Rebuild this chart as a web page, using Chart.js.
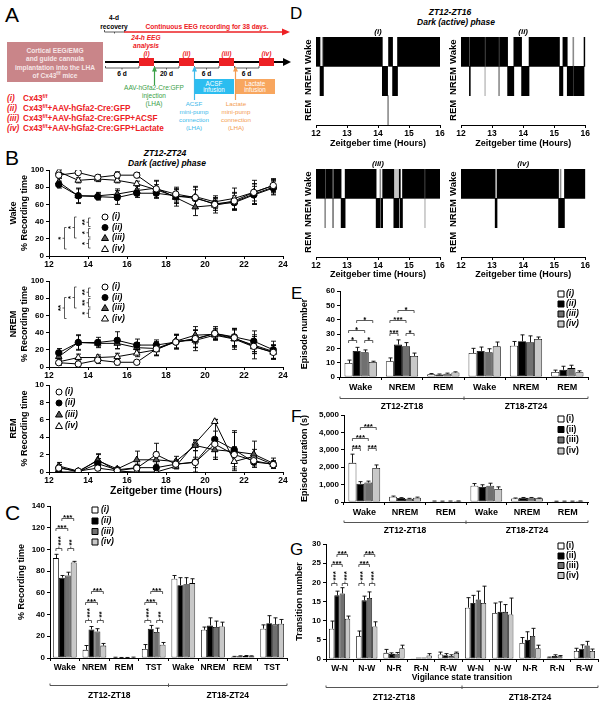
<!DOCTYPE html>
<html><head><meta charset="utf-8">
<script src="https://cdn.jsdelivr.net/npm/chart.js@4.4.1/dist/chart.umd.min.js"></script>
<style>
html,body{margin:0;padding:0;background:#fff}
body{width:604px;height:705px;position:relative;overflow:hidden;font-family:'Liberation Sans',Arial,sans-serif}
canvas{position:absolute}
.L{position:absolute;line-height:1;color:#000}
.T{position:absolute;font-weight:bold;font-style:italic;text-align:center;white-space:nowrap;line-height:1;color:#000}
</style></head><body>
<div class="L" style="left:5px;top:4px;font-size:21px">A</div>
<div class="L" style="left:5px;top:147px;font-size:21px">B</div>
<div class="L" style="left:5px;top:502px;font-size:21px">C</div>
<div class="L" style="left:290px;top:5px;font-size:17px">D</div>
<div class="L" style="left:291px;top:285px;font-size:17px">E</div>
<div class="L" style="left:291px;top:408px;font-size:17px">F</div>
<div class="L" style="left:290px;top:541px;font-size:17px">G</div>
<div class="T" style="left:105px;width:120px;top:148.5px;font-size:8.5px">ZT12-ZT24</div>
<div class="T" style="left:107px;width:120px;top:158.5px;font-size:8.5px">Dark (active) phase</div>
<div class="T" style="left:390px;width:120px;top:7.5px;font-size:8.5px">ZT12-ZT16</div>
<div class="T" style="left:396px;width:120px;top:17.5px;font-size:8.5px">Dark (active) phase</div>

<svg style="position:absolute;left:0;top:0" width="296" height="140" font-family="'Liberation Sans',Arial,sans-serif" font-weight="bold">
<g font-size="6.6" text-anchor="middle">
<text x="114" y="20">4-d</text>
<text x="114" y="28.5">recovery</text>
</g>
<path d="M104.5,30 v2 h20 v-2 M114.5,32 v1.5" stroke="#333" stroke-width="0.8" fill="none"/>
<line x1="124" y1="32" x2="283" y2="32" stroke="#ed2024" stroke-width="1.6"/>
<path d="M282,28.5 L290,32 L282,35.5 Z" fill="#ed2024"/>
<text x="207" y="28.5" font-size="6.6" fill="#ed2024" text-anchor="middle">Continuous EEG recording for 38 days.</text>
<g fill="#ed2024" font-style="italic" font-size="6.6" text-anchor="middle">
<text x="146" y="40">24-h EEG</text><text x="146" y="48">analysis</text>
<text x="146.5" y="56">(i)</text><text x="186.5" y="56">(ii)</text><text x="226.5" y="56">(iii)</text><text x="266.5" y="56">(iv)</text>
</g>
<rect x="7" y="42" width="96" height="40" fill="#c98589"/>
<g fill="#f6e6e7" font-size="6.6" text-anchor="middle">
<text x="55" y="53">Cortical EEG/EMG</text>
<text x="55" y="61">and guide cannula</text>
<text x="55" y="69.5">implantation into the LHA</text>
<text x="55" y="77.5">of Cx43<tspan font-size="4.5" dy="-2.5">f/f</tspan><tspan dy="2.5"> mice</tspan></text>
</g>
<line x1="105" y1="62" x2="284" y2="62" stroke="#000" stroke-width="2"/>
<path d="M283,58 L291,62 L283,66 Z" fill="#000"/>
<g fill="#ed2024"><rect x="139" y="58" width="15" height="8"/><rect x="179" y="58" width="15" height="8"/><rect x="219" y="58" width="15" height="8"/><rect x="259" y="58" width="15" height="8"/></g>
<path d="M105.5,66 v2 h33.5 v-2 M122,68 v1.5 M154.5,66 v2 h24.5 v-2 M166.5,68 v1.5 M194.5,66 v2 h24.5 v-2 M206.5,68 v1.5 M234.5,66 v2 h24.5 v-2 M246.5,68 v1.5" stroke="#333" stroke-width="0.8" fill="none"/>
<g font-size="6.6" text-anchor="middle"><text x="122" y="76">6 d</text><text x="166.5" y="76">20 d</text><text x="206.5" y="76">6 d</text><text x="246.5" y="76">6 d</text></g>
<rect x="194" y="79" width="40" height="15" fill="#2bbdf0"/>
<rect x="235" y="79" width="40" height="15" fill="#f8a65e"/>
<g fill="#ffffff" font-size="6.3" font-weight="normal" text-anchor="middle">
<text x="214" y="85.5">ACSF</text><text x="214" y="92.3">infusion</text>
<text x="255" y="85.5">Lactate</text><text x="255" y="92.3">infusion</text>
</g>
<path d="M154.5,85 V71" stroke="#3aa047" stroke-width="1.2"/><path d="M152,71.5 L154.5,66 L157,71.5 Z" fill="#3aa047"/>
<path d="M194.5,100 V71" stroke="#3cb9ea" stroke-width="1.2"/><path d="M192,71.5 L194.5,66 L197,71.5 Z" fill="#3cb9ea"/>
<path d="M235.5,100 V71" stroke="#f39c50" stroke-width="1.2"/><path d="M233,71.5 L235.5,66 L238,71.5 Z" fill="#f39c50"/>
<g fill="#3aa047" font-size="6.5" font-weight="normal" text-anchor="middle">
<text x="154" y="90">AAV-hGfa2-Cre:GFP</text><text x="154" y="98">injection</text><text x="154" y="106">(LHA)</text>
</g>
<g fill="#3cb9ea" font-size="6.2" font-weight="normal" text-anchor="middle">
<text x="194" y="106">ACSF</text><text x="194" y="114">mini-pump</text><text x="194" y="122">connection</text><text x="194" y="130">(LHA)</text>
</g>
<g fill="#f39c50" font-size="6.2" font-weight="normal" text-anchor="middle">
<text x="236" y="106">Lactate</text><text x="236" y="114">mini-pump</text><text x="236" y="122">connection</text><text x="236" y="130">(LHA)</text>
</g>
<g fill="#ed2024" font-size="8.2">
<text x="7" y="100.5"><tspan font-style="italic">(i)</tspan></text><text x="23" y="100.5">Cx43<tspan font-size="5.2" dy="-3">f/f</tspan></text>
<text x="7" y="110.5"><tspan font-style="italic">(ii)</tspan></text><text x="23" y="110.5">Cx43<tspan font-size="5.2" dy="-3">f/f</tspan><tspan dy="3">+AAV-hGfa2-Cre:GFP</tspan></text>
<text x="7" y="120.5"><tspan font-style="italic">(iii)</tspan></text><text x="23" y="120.5">Cx43<tspan font-size="5.2" dy="-3">f/f</tspan><tspan dy="3">+AAV-hGfa2-Cre:GFP+ACSF</tspan></text>
<text x="7" y="131"><tspan font-style="italic">(iv)</tspan></text><text x="23" y="131">Cx43<tspan font-size="5.2" dy="-3">f/f</tspan><tspan dy="3">+AAV-hGfa2-Cre:GFP+Lactate</tspan></text>
</g>
</svg>

<script>
// ---------------- DATA ----------------
const ZT = [12.5,13.5,14.5,15.5,16.5,17.5,18.5,19.5,20.5,21.5,22.5,23.5];
const GROUP_LABELS = ['(i)','(ii)','(iii)','(iv)'];
const GROUP_LABELS_PLAIN = ['(i)','(ii)','(iii)','(iv)'];

const WAKE_I   = [94,97,91.5,94,94,78,72,68,60,64,74,82];
const WAKE_II  = [83,70,69,68,73,73,70,67,61,62,71,79];
const WAKE_III = [86,70,70,72,76,79,68,57,59,63,72,80];
const WAKE_IV  = [98,88,89.5,88,84,77,69,69,63,67,74,82];
const WAKE_I_E   = [3,2,3,4,3,10,8,12,10,10,10,8];
const WAKE_II_E  = [4,9,4,8,5,6,8,10,6,8,10,8];
const WAKE_III_E = [4,8,4,6,6,8,10,10,6,10,12,8];
const WAKE_IV_E  = [2,3,3,3,3,6,8,12,5,12,14,7];

const NREM_I   = [5,3.5,8,5.5,5.5,21,29,33,39,34,24,17];
const NREM_II  = [16.5,28.5,28.5,31,25.5,25.5,29,32.5,39,35,30,20];
const NREM_III = [12,28.5,27.5,27.5,22.5,21.5,30,37,38,33,25.5,18];
const NREM_IV  = [6,11,11,12,16,20,30,31,37,32.5,23.5,17];
const NREM_I_E   = [3,2,4,3,2,8,8,10,8,10,8,8];
const NREM_II_E  = [5,9,6,10,7,6,8,10,6,10,12,10];
const NREM_III_E = [4,8,4,6,6,8,8,10,6,10,10,8];
const NREM_IV_E  = [2,4,3,4,4,6,8,12,5,12,14,8];

const REM_I   = [0.45,0.1,0.45,0.15,0.45,2.0,0.9,1.1,3.2,2.0,1.3,0.85];
const REM_II  = [0,0,0.95,0.25,0.5,0.5,0.9,1.15,3.75,2.55,1.15,0.9];
const REM_III = [0.7,0.1,1.3,0.35,1.4,1.4,1.2,3.05,2.55,2.35,2.05,1.0];
const REM_IV  = [0.55,0,1.4,0.1,0,0,0.65,3.3,5.8,1.2,1.8,0.85];
const REM_I_E   = [0.2,0.1,0.3,0.1,0.3,1.3,0.4,0.6,1.5,0.9,0.5,0.3];
const REM_II_E  = [0,0,0.6,0.2,0.4,0.4,0.5,1.3,2.3,2.2,0.6,0.4];
const REM_III_E = [0.4,0.1,0.7,0.2,1.0,0.9,0.6,0.6,1.1,2.2,1.5,0.6];
const REM_IV_E  = [0.3,0,0.7,0.1,0,0,0.3,0.4,0.2,0.6,0.8,0.4];

const C_CATS = ['Wake','NREM','REM','TST','Wake','NREM','REM','TST'];
const C_I   = [92,7.5,0.5,8.4,73,26,1.2,27];
const C_II  = [74,26.3,0.3,27,67,30,1.7,32];
const C_III = [76,24.5,0.3,24,68,28.5,1.9,31];
const C_IV  = [88,11.4,0.5,12.3,69,29,1.7,31.5];
const C_I_E   = [3.5,4,0.2,4,3,2.5,0.3,3.5];
const C_II_E  = [2,2.7,0.2,3,7,7,0.3,7];
const C_III_E = [3,2.5,0.2,3.5,6,5.5,0.4,6];
const C_IV_E  = [1,2,0.3,2,4,4,0.3,4];

const E_CATS = ['Wake','NREM','REM','Wake','NREM','REM'];
const E_I   = [9.8,11,2,16.7,21.8,3.5];
const E_II  = [18.2,22.6,1.8,18.2,24.9,5];
const E_III = [17.3,21.5,2.3,17.3,24.2,6.2];
const E_IV  = [10.5,14.7,3.2,21.4,26.5,3.3];
const E_I_E   = [2,2.3,0.4,3.3,3,1.3];
const E_II_E  = [2.5,3.3,0.3,2.7,4.5,2.5];
const E_III_E = [1.6,2.5,0.4,2.4,4.5,2];
const E_IV_E  = [0.5,2,0.4,3,1.4,1];

const F_CATS = ['Wake','NREM','REM','Wake','NREM','REM'];
const F_I   = [2250,300,50,930,200,40];
const F_II  = [1050,230,45,870,240,45];
const F_III = [1120,190,50,930,240,45];
const F_IV  = [1950,250,55,750,210,55];
const F_I_E   = [500,40,5,130,30,5];
const F_II_E  = [120,20,5,120,20,5];
const F_III_E = [80,20,5,150,20,5];
const F_IV_E  = [180,30,5,120,20,5];

const G_CATS = ['W-N','N-W','N-R','R-N','R-W','W-N','N-W','N-R','R-N','R-W'];
const G_I   = [7.9,6.0,1.6,0.2,1.2,13.4,12.0,4.2,0.4,2.1];
const G_II  = [16.6,15.3,1.3,0.4,1.0,14.6,12.3,5.0,0.8,2.7];
const G_III = [17.1,15.9,1.4,0.4,0.8,15.5,12.3,6.0,0.7,3.5];
const G_IV  = [10.5,8.5,2.8,0.9,1.6,14.6,11.6,2.8,0,2.1];
const G_I_E   = [2,1.3,0.9,0,0.6,2.6,2.6,1.4,0.1,0.7];
const G_II_E  = [1.1,1.1,0.3,0,0.4,2,2.6,2.1,0.3,1.0];
const G_III_E = [1.5,1.6,0.3,0,0.3,2.2,1.9,2.0,0.2,1.1];
const G_IV_E  = [0.7,1.2,0.8,0.5,0.2,4.4,4.3,0.8,0,0.5];

const PERIODS = ['ZT12-ZT18','ZT18-ZT24'];
const STATES = ['Wake','NREM','REM'];
// hypnogram episodes: [start, end, shade] shade 0 black, 1 gray, 2 light gray
const HYP_I_WAKE = [[12,12.13,0],[12.24,14.14,0],[14.34,14.47,0],[14.63,16,0],[12.2,12.23,1]];
const HYP_I_NREM = [[12.13,12.24,0],[14.14,14.31,0],[14.47,14.63,0]];
const HYP_I_REM  = [[14.31,14.34,1]];
const HYP_II_WAKE = [[12,12.27,0],[12.3,12.76,0],[12.79,13.21,0],[13.24,13.5,0],[13.7,13.95,0],[14.19,15.17,0],[15.28,15.42,0],[15.96,16,0],[15.6,15.63,1]];
const HYP_II_NREM = [[12.27,12.3,0],[13.5,13.7,0],[13.95,14.19,0],[15.17,15.28,0],[15.42,15.6,0],[15.63,15.96,0],[12.76,12.79,2],[13.21,13.24,1],[15.6,15.63,1]];
const HYP_II_REM  = [];
const HYP_III_WAKE = [[12,12.28,0],[12.31,12.53,0],[12.57,12.81,0],[12.94,13.94,0],[14.15,14.51,0],[14.68,14.72,0],[14.79,15.5,0],[15.53,16,0],[14.06,14.09,1],[14.53,14.64,2]];
const HYP_III_NREM = [[12.81,12.94,0],[13.94,14.06,0],[14.09,14.15,0],[14.51,14.68,0],[14.72,14.79,0],[12.28,12.31,1],[12.53,12.57,1],[15.5,15.53,2]];
const HYP_III_REM  = [];
const HYP_IV_WAKE = [[12,13.1,0],[13.16,15.14,0],[15.33,16,0],[15.19,15.22,1]];
const HYP_IV_NREM = [[13.1,13.16,0],[15.14,15.33,0]];
const HYP_IV_REM  = [];

// ---------------- SETUP ----------------
const FF = "'Liberation Sans', Arial, Helvetica, sans-serif";
const fnt = (s, st) => (st || 'bold') + ' ' + s + 'px ' + FF;
Chart.defaults.font.family = FF;
Chart.defaults.color = '#000';
Chart.defaults.animation = false;
Chart.defaults.events = [];
Chart.defaults.plugins.legend.display = false;
Chart.defaults.plugins.tooltip.enabled = false;
const FILL = ['#ffffff','#000000','#707070','#c8c8c8'];
const SHADE = ['#000000','#8a8a8a','#c4c4c4'];
const EXTRA = {};

function sym(ctx, s, x, y, fill) {
  ctx.save(); ctx.fillStyle = fill; ctx.strokeStyle = '#000'; ctx.lineWidth = 1;
  ctx.beginPath();
  if (s === 'sq') ctx.rect(x - 3, y - 3, 6, 6);
  else if (s === 'ci') ctx.arc(x, y, 3, 0, Math.PI * 2);
  else { ctx.moveTo(x, y - 3.5); ctx.lineTo(x + 3.5, y + 2.5); ctx.lineTo(x - 3.5, y + 2.5); ctx.closePath(); }
  ctx.fill(); ctx.stroke(); ctx.restore();
}

const deco = {
  id: 'deco',
  beforeDatasetsDraw(chart) {
    const o = EXTRA[chart.canvas.id]; if (!o || !o.err) return;
    const ctx = chart.ctx, ys = chart.scales.y;
    ctx.save(); ctx.strokeStyle = '#000'; ctx.lineWidth = 0.9;
    o.err.forEach((errs, di) => {
      const meta = chart.getDatasetMeta(di); const ds = chart.data.datasets[di].data;
      meta.data.forEach((el, j) => {
        const e = errs[j]; if (!e) return;
        const d = ds[j]; const v = (typeof d === 'object') ? d.y : d;
        const x = Math.round(el.x) + 0.5;
        const yt = ys.getPixelForValue(v + e);
        const yb = ys.getPixelForValue(o.both ? Math.max(v - e, ys.min) : v);
        ctx.beginPath(); ctx.moveTo(x, yb); ctx.lineTo(x, yt);
        ctx.moveTo(x - o.cap, yt); ctx.lineTo(x + o.cap, yt);
        if (o.both) { ctx.moveTo(x - o.cap, yb); ctx.lineTo(x + o.cap, yb); }
        ctx.stroke();
      });
    });
    ctx.restore();
  },
  afterDatasetsDraw(chart) {
    const o = EXTRA[chart.canvas.id]; if (!o) return;
    const ctx = chart.ctx, ca = chart.chartArea, xs = chart.scales.x, ys = chart.scales.y;
    ctx.save();
    ctx.fillStyle = '#000';
    (o.br || []).forEach(b => {
      const xa = chart.getDatasetMeta(b[1]).data[b[0]].x, xb = chart.getDatasetMeta(b[2]).data[b[0]].x;
      const y = Math.round(ys.getPixelForValue(b[3])) + 0.5;
      ctx.lineWidth = 0.8; ctx.strokeStyle = '#333';
      ctx.beginPath(); ctx.moveTo(xa, y + 2.5); ctx.lineTo(xa, y); ctx.lineTo(xb, y); ctx.lineTo(xb, y + 2.5);
      const xm = (xa + xb) / 2; ctx.moveTo(xm, y); ctx.lineTo(xm, y - 2); ctx.stroke();
      ctx.font = fnt(8);
      if (b[5]) {
        ctx.save(); ctx.translate(xm + 1.5, y - 3); ctx.rotate(-Math.PI / 2);
        ctx.textAlign = 'left'; ctx.textBaseline = 'middle'; ctx.fillText(b[4], 0, 0); ctx.restore();
      } else {
        ctx.textAlign = 'center'; ctx.textBaseline = 'alphabetic'; ctx.fillText(b[4], xm, y + 1);
      }
    });
    (o.vbr || []).forEach(v => {
      const x = v.x + 0.5; ctx.lineWidth = 0.8; ctx.strokeStyle = '#333';
      ctx.beginPath(); ctx.moveTo(x + 2, v.y1); ctx.lineTo(x, v.y1); ctx.lineTo(x, v.y2); ctx.lineTo(x + 2, v.y2);
      const ym = (v.y1 + v.y2) / 2; ctx.moveTo(x, ym); ctx.lineTo(x - 2, ym); ctx.stroke();
      ctx.save(); ctx.translate(x - 4, ym); ctx.rotate(-Math.PI / 2);
      ctx.font = fnt(8); ctx.textAlign = 'center'; ctx.textBaseline = 'middle'; ctx.fillText(v.t, 0, 0); ctx.restore();
    });
    if (o.grp) {
      const g = o.grp; const y = Math.round(ca.bottom + g.dy) + 0.5;
      ctx.strokeStyle = '#555'; ctx.lineWidth = 1;
      ctx.beginPath(); ctx.moveTo(ca.left, y - 2); ctx.lineTo(ca.left, y); ctx.lineTo(ca.right, y); ctx.lineTo(ca.right, y - 2);
      const xd = xs.getPixelForValue(g.split - 0.5); ctx.moveTo(xd, y - 2); ctx.lineTo(xd, y + 1.5); ctx.stroke();
      ctx.font = fnt(g.size || 8.5); ctx.textAlign = 'center'; ctx.textBaseline = 'middle'; ctx.fillStyle = '#000';
      const c0 = (g.split - 1) / 2, c1 = (g.split + g.n - 1) / 2;
      ctx.fillText(PERIODS[0], xs.getPixelForValue(c0), ca.bottom + g.dl);
      ctx.fillText(PERIODS[1], xs.getPixelForValue(c1), ca.bottom + g.dl);
    }
    (o.txt || []).forEach(t => {
      ctx.font = t.f; ctx.textAlign = 'center'; ctx.textBaseline = 'middle'; ctx.fillStyle = '#000';
      const x = (t.x === undefined) ? (ca.left + ca.right) / 2 : t.x;
      const y = (t.dy !== undefined) ? ca.bottom + t.dy : ca.top + t.dt;
      ctx.fillText(t.t, x, y);
    });
    if (o.leg) {
      const L = o.leg;
      L.items.forEach((it, k) => {
        const y = L.ys[k];
        sym(ctx, it[0], L.x, y, it[1]);
        ctx.font = L.f; ctx.textAlign = 'left'; ctx.textBaseline = 'middle'; ctx.fillStyle = '#000';
        ctx.fillText(it[2], L.tx, y);
      });
    }
    if (o.rows) {
      ctx.font = fnt(9.5); ctx.textAlign = 'center'; ctx.textBaseline = 'middle';
      ys.getLabels().forEach((lab, i) => {
        ctx.save(); ctx.translate(ca.left - 8, ys.getPixelForValue(i)); ctx.rotate(-Math.PI / 2);
        ctx.fillText(lab, 0, 0); ctx.restore();
      });
    }
    ctx.restore();
  }
};
Chart.register(deco);

function mk(id, left, top, w, h, cfg, extra) {
  const c = document.createElement('canvas');
  c.id = id; c.width = w; c.height = h;
  c.style.left = left + 'px'; c.style.top = top + 'px'; c.style.width = w + 'px'; c.style.height = h + 'px';
  document.body.appendChild(c);
  EXTRA[id] = extra || {};
  cfg.options = Object.assign({ responsive: false, maintainAspectRatio: false, devicePixelRatio: 1, animation: false }, cfg.options);
  return new Chart(c, cfg);
}
function yLin(min, max, step, title, w, tpad, tsize) {
  return {
    type: 'linear', min, max,
    ticks: { stepSize: step, font: { size: 8, weight: 'bold' }, color: '#000', padding: 2 },
    grid: { drawOnChartArea: false, drawTicks: true, tickLength: 3, color: '#000', lineWidth: 1 },
    border: { color: '#000', width: 1 },
    title: { display: !!title, text: title, color: '#000', font: { size: tsize || 9, weight: 'bold' }, padding: { top: tpad, bottom: 0 } },
    afterFit(s) { s.width = w; }
  };
}
function xCat(h, size) {
  return {
    type: 'category',
    ticks: { font: { size: size, weight: 'bold' }, color: '#000', padding: 2, autoSkip: false, maxRotation: 0, minRotation: 0 },
    grid: { drawOnChartArea: false, tickLength: 3, color: '#000', offset: true },
    border: { color: '#000', width: 1 },
    afterFit(s) { s.height = h; }
  };
}
function barChart(id, left, top, w, h, labels, series, errs, y, g, extra) {
  return mk(id, left, top, w, h, {
    type: 'bar',
    data: { labels, datasets: series.map((d, i) => ({ label: GROUP_LABELS[i], data: d, backgroundColor: FILL[i], borderColor: '#000', borderWidth: 0.8, borderSkipped: false, barPercentage: 1, categoryPercentage: g.cat })) },
    options: {
      layout: { padding: { top: g.pt, right: g.pr, left: 0, bottom: 0 } },
      scales: { x: xCat(g.xh, g.xf), y: yLin(y[0], y[1], y[2], y[3], g.yw, y[4]) }
    }
  }, Object.assign({ err: errs, cap: 2 }, extra));
}
const PS = ['circle','circle','triangle','triangle'];
const PF = ['#ffffff','#000000','#555555','#ffffff'];
const PR = [3.2,3.2,3.8,3.8];
function lineChart(id, top, h, sets, errs, ymax, ystep, title, xh, extra, xtitle) {
  return mk(id, 0, top, 292, h, {
    type: 'line',
    data: { datasets: sets.map((arr, i) => ({ label: GROUP_LABELS[i], data: ZT.map((x, k) => ({ x, y: arr[k] })), borderColor: '#000', borderWidth: 1, pointStyle: PS[i], pointRadius: PR[i], pointBackgroundColor: PF[i], pointBorderColor: '#000', pointBorderWidth: 1, fill: false, tension: 0 })) },
    options: {
      layout: { padding: { top: 10, right: 9, left: 0, bottom: 0 } },
      scales: {
        x: { type: 'linear', min: 12, max: 24,
          ticks: { stepSize: 2, font: { size: 8.5, weight: 'bold' }, color: '#000', padding: 1 },
          grid: { drawOnChartArea: false, tickLength: 3, color: '#000' }, border: { color: '#000' },
          title: xtitle ? { display: true, text: xtitle, font: { size: 10.5, weight: 'bold' }, color: '#000', padding: { top: 0, bottom: 8 } } : { display: false },
          afterFit(s) { s.height = xh; } },
        y: yLin(0, ymax, ystep, title, 49, 8)
      }
    }
  }, Object.assign({ err: errs, both: true, cap: 2.5 }, extra));
}
function hyp(id, left, top, w, h, pt, pr, lab, wake, nrem, rem, tpadB) {
  const ds = [0, 1, 2].map(sh => {
    const pick = (arr, row) => arr.filter(r => r[2] === sh).map(r => ({ x: [r[0], r[1]], y: row }));
    return { data: pick(wake, 'Wake').concat(pick(nrem, 'NREM')).concat(pick(rem, 'REM')), backgroundColor: SHADE[sh], barPercentage: 1, categoryPercentage: 1, grouped: false, borderWidth: 0 };
  });
  return mk(id, left, top, w, h, {
    type: 'bar',
    data: { labels: STATES, datasets: ds },
    options: {
      indexAxis: 'y',
      layout: { padding: { top: pt, right: pr, left: 0, bottom: 0 } },
      scales: {
        x: { type: 'linear', min: 12, max: 16,
          ticks: { stepSize: 1, font: { size: 8.5, weight: 'bold' }, color: '#000', padding: 1 },
          grid: { drawOnChartArea: false, tickLength: 3, color: '#000' }, border: { color: '#000' },
          title: { display: true, text: 'Zeitgeber time (Hours)', font: { size: 9, weight: 'bold' }, color: '#000', padding: { top: 0, bottom: tpadB } },
          afterFit(s) { s.height = 29; } },
        y: { type: 'category', ticks: { display: false }, grid: { display: false }, border: { display: false }, afterFit(s) { s.width = 20; } }
      }
    }
  }, { rows: true, txt: [{ t: lab, f: fnt(8, 'italic bold'), dt: -5 }] });
}

// ---------------- PANEL B ----------------
const legB = (x, tx, ys) => ({ x, tx, ys, f: fnt(8.5, 'italic bold'), items: [['ci', '#fff', GROUP_LABELS[0]], ['ci', '#000', GROUP_LABELS[1]], ['tr', '#555', GROUP_LABELS[2]], ['tr', '#fff', GROUP_LABELS[3]]] });
lineChart('bwake', 160, 110, [WAKE_I, WAKE_II, WAKE_III, WAKE_IV], [WAKE_I_E, WAKE_II_E, WAKE_III_E, WAKE_IV_E], 100, 20, ['Wake', '% Recording time'], 14, {
  leg: legB(105, 112, [57, 67.5, 78, 89]),
  vbr: [{ x: 88, y1: 58, y2: 66.5, t: '**' }, { x: 88, y1: 68.5, y2: 77, t: '*' }, { x: 88, y1: 79, y2: 88, t: '*' }, { x: 74, y1: 57, y2: 78, t: '*' }, { x: 64, y1: 67.5, y2: 89, t: '*' }]
});
lineChart('bnrem', 271, 110, [NREM_I, NREM_II, NREM_III, NREM_IV], [NREM_I_E, NREM_II_E, NREM_III_E, NREM_IV_E], 100, 20, ['NREM', '% Recording time'], 14, {
  leg: legB(105, 112, [16, 26.5, 37, 47.5]),
  vbr: [{ x: 88, y1: 17, y2: 25.5, t: '**' }, { x: 88, y1: 27.5, y2: 36, t: '**' }, { x: 88, y1: 38, y2: 46.5, t: '*' }, { x: 74, y1: 16, y2: 37, t: '*' }, { x: 64, y1: 26.5, y2: 47.5, t: '**' }]
});
lineChart('brem', 375, 130, [REM_I, REM_II, REM_III, REM_IV], [REM_I_E, REM_II_E, REM_III_E, REM_IV_E], 10, 2, ['REM', '% Recording time'], 33, {
  leg: legB(59, 65, [17, 28, 39.5, 51])
}, 'Zeitgeber time (Hours)');

// ---------------- PANEL C ----------------
barChart('cbar', 0, 496, 295, 209, C_CATS, [C_I, C_II, C_III, C_IV], [C_I_E, C_II_E, C_III_E, C_IV_E],
  [0, 140, 20, '% Recording time', 16.6], { cat: 0.8, pt: 10, pr: 8, yw: 50, xh: 47, xf: 8.5 }, {
  br: [[0, 0, 1, 101.5, '***', 1], [0, 2, 3, 101.5, '**', 1], [0, 0, 2, 119.5, '***'], [0, 1, 3, 129, '***'],
       [1, 0, 1, 35, '***', 1], [1, 2, 3, 35, '**', 1], [1, 0, 2, 51.5, '***'], [1, 1, 3, 62, '***'],
       [3, 0, 1, 35, '***', 1], [3, 2, 3, 35, '**', 1], [3, 0, 2, 51.5, '***'], [3, 1, 3, 62, '***']],
  grp: { dy: 27, dl: 37.5, split: 4, n: 8 },
  leg: { x: 95, tx: 101, ys: [14, 25, 35.5, 46], f: fnt(8.5, 'italic bold'), items: FILL.map((c, i) => ['sq', c, GROUP_LABELS[i]]) }
});

// ---------------- PANEL D ----------------
hyp('d1', 296, 26, 150, 128, 11, 6, '(i)', HYP_I_WAKE, HYP_I_NREM, HYP_I_REM, 5);
hyp('d2', 441, 26, 150, 128, 11, 5, '(ii)', HYP_II_WAKE, HYP_II_NREM, HYP_II_REM, 5);
hyp('d3', 296, 156, 150, 130, 13, 6, '(iii)', HYP_III_WAKE, HYP_III_NREM, HYP_III_REM, 6);
hyp('d4', 441, 156, 150, 130, 13, 5, '(iv)', HYP_IV_WAKE, HYP_IV_NREM, HYP_IV_REM, 6);

// ---------------- PANEL E ----------------
barChart('ebar', 296, 281, 304, 135, E_CATS, [E_I, E_II, E_III, E_IV], [E_I_E, E_II_E, E_III_E, E_IV_E],
  [0, 60, 10, 'Episode number', 3.6], { cat: 0.78, pt: 10, pr: 12, yw: 44, xh: 39, xf: 9 }, {
  br: [[0, 0, 1, 25.8, '*'], [0, 2, 3, 25.8, '*'], [0, 0, 2, 32.8, '*'], [0, 1, 3, 39.8, '*'],
       [1, 0, 1, 30.7, '***'], [1, 2, 3, 30.7, '*'], [1, 0, 2, 39.8, '***'], [1, 1, 3, 46.8, '*']],
  grp: { dy: 21, dl: 30, split: 3, n: 6 },
  leg: { x: 265, tx: 270, ys: [13, 23, 33, 43], f: fnt(8.5, 'italic bold'), items: FILL.map((c, i) => ['sq', c, GROUP_LABELS[i]]) }
});

// ---------------- PANEL F ----------------
barChart('fbar', 296, 405, 304, 136, F_CATS, [F_I, F_II, F_III, F_IV], [F_I_E, F_II_E, F_III_E, F_IV_E],
  [0, 5000, 1000, 'Episode duration (s)', 3.6], { cat: 0.78, pt: 10, pr: 12, yw: 48, xh: 39, xf: 9 }, {
  br: [[0, 0, 1, 3090, '***'], [0, 2, 3, 3090, '***'], [0, 0, 2, 3660, '***'], [0, 1, 3, 4290, '***']],
  grp: { dy: 20, dl: 28.5, split: 3, n: 6 },
  leg: { x: 265, tx: 270, ys: [14, 24.5, 35, 46], f: fnt(8.5), items: FILL.map((c, i) => ['sq', c, GROUP_LABELS_PLAIN[i]]) }
});

// ---------------- PANEL G ----------------
barChart('gbar', 294, 534, 306, 171, G_CATS, [G_I, G_II, G_III, G_IV], [G_I_E, G_II_E, G_III_E, G_IV_E],
  [0, 30, 5, 'Transition number', 0.6], { cat: 0.78, pt: 10, pr: 2, yw: 32, xh: 46, xf: 8.5 }, {
  br: [[0, 0, 1, 19.7, '***', 1], [0, 2, 3, 19.7, '***', 1], [0, 0, 2, 24.7, '***'], [0, 1, 3, 27.5, '***'],
       [1, 0, 1, 19.7, '***', 1], [1, 2, 3, 19.7, '***', 1], [1, 0, 2, 24.7, '***'], [1, 1, 3, 27.5, '***']],
  grp: { dy: 28, dl: 39, split: 5, n: 10 },
  txt: [{ t: 'Vigilance state transition', f: fnt(8.5), dy: 19 }],
  leg: { x: 267, tx: 272, ys: [12, 22, 31.5, 41.5], f: fnt(8.5), items: FILL.map((c, i) => ['sq', c, GROUP_LABELS_PLAIN[i]]) }
});
</script>
</body></html>
